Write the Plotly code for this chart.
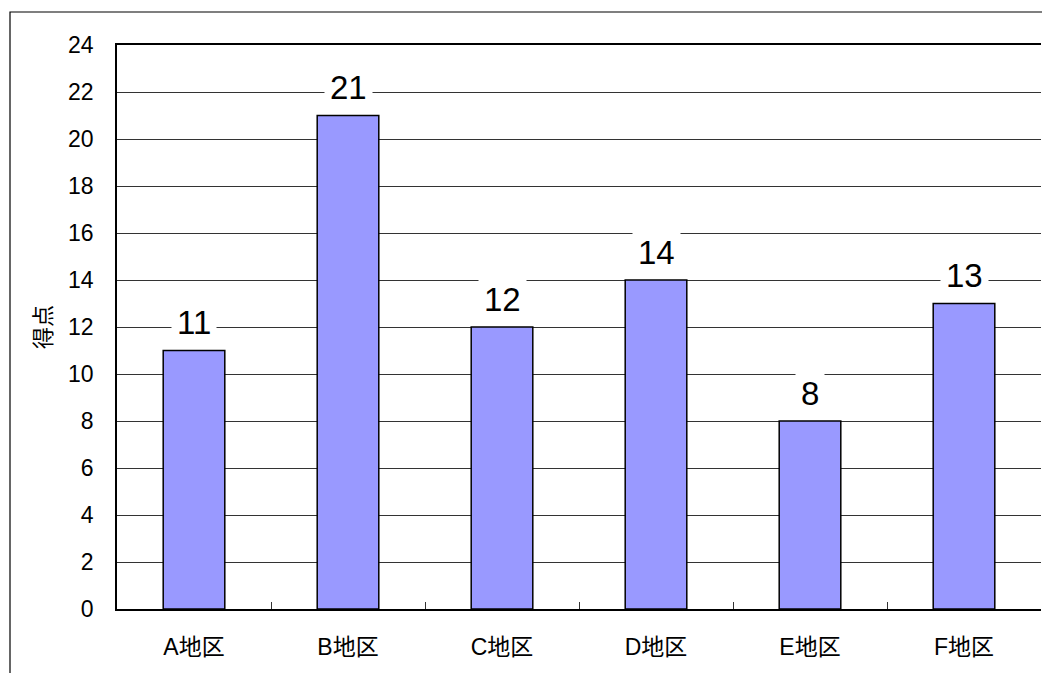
import plotly.graph_objects as go

categories = ["A地区", "B地区", "C地区", "D地区", "E地区", "F地区"]
values = [11, 21, 12, 14, 8, 13]
y_ticks = list(range(0, 25, 2))

FONT = "Liberation Sans, Arial, Noto Sans CJK JP, sans-serif"

fig = go.Figure()
fig.add_trace(go.Bar(
    x=categories, y=values,
    marker=dict(color="#9999FF", line=dict(color="#000000", width=1.5)),
    width=0.4,
    hoverinfo="skip",
))

for c, v in zip(categories, values):
    fig.add_annotation(
        x=c, y=v, xref="x", yref="y", text=str(v), showarrow=False,
        yanchor="middle", yshift=28, bgcolor="white", borderpad=5,
        font=dict(family=FONT, size=33, color="black"),
    )

fig.add_shape(type="rect", xref="paper", yref="paper",
              x0=-0.1158, x1=2, y0=-1, y1=1.0585,
              line=dict(color="black", width=1.2), fillcolor="rgba(0,0,0,0)", layer="below")

fig.update_layout(
    width=1042, height=673,
    margin=dict(l=117, r=1, t=45, b=64),
    paper_bgcolor="white", plot_bgcolor="white",
    showlegend=False,
    font=dict(family=FONT, size=22, color="black"),
    xaxis=dict(
        type="category", showline=True, linecolor="black", linewidth=1.5,
        mirror=True, ticks="inside", tickson="boundaries", ticklen=7,
        tickcolor="#333", showgrid=False, tickfont=dict(size=23),
        ticklabelstandoff=17,
    ),
    yaxis=dict(
        range=[0, 24], tickvals=y_ticks, showline=True, linecolor="black",
        linewidth=1.5, showgrid=True, gridcolor="#333", gridwidth=1,
        ticks="", zeroline=False, tickfont=dict(size=23),
        ticklabelstandoff=17,
        title=dict(text="得点", font=dict(size=22), standoff=10),
    ),
)

fig.write_html("out.html", config={"displayModeBar": False},
               post_script="document.body.style.margin='0';document.body.style.overflow='hidden';")
